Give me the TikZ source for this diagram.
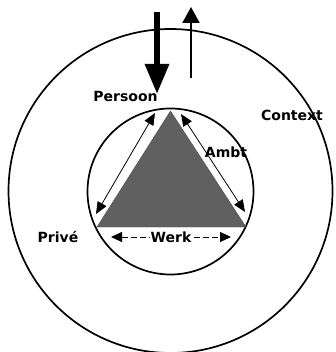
\documentclass[tikz,border=0pt]{standalone}
\usepackage{fontspec}
\setmainfont{DejaVu Sans}
\usetikzlibrary{arrows.meta}
\begin{document}
\begin{tikzpicture}[x=1pt,y=-1pt,
  ring/.style={line width=1.7pt,draw=black},
  lbl/.style={font=\bfseries\fontsize{14}{15}\selectfont,anchor=base,inner sep=0pt},
  side/.style={line width=0.8pt,{Triangle[length=12pt,width=10pt]}-{Triangle[length=12pt,width=10pt]}},
]
\useasboundingbox (0,0) rectangle (335,352);
\node[circle,ring,minimum size=324pt,inner sep=0pt] (outer) at (170.5,191) {};
\node[circle,ring,minimum size=166pt,inner sep=0pt] (inner) at (170.5,191.5) {};
\coordinate (apex) at (170.5,111);
\coordinate (bl) at (97,227);
\coordinate (br) at (246,227);
\fill[fill={rgb,255:red,96;green,96;blue,96},draw=black!70,line width=0.4pt] (apex) -- (bl) -- (br) -- cycle;
\coordinate (la) at (155,113);
\coordinate (lb) at (96,214);
\coordinate (ra) at (181,114);
\coordinate (rb) at (245,212);
\draw[side] (la) -- (lb);
\draw[side] (ra) -- (rb);
\coordinate (wa) at (111,237);
\coordinate (wb) at (231,237);
\draw[line width=0.9pt,dash pattern=on 6pt off 3pt,{Triangle[length=11pt,width=10pt]}-{Triangle[length=11pt,width=10pt]}] (wa) -- (wb);
\node[lbl,fill=white,inner xsep=1pt,inner ysep=1pt] (werk) at (171,242) {Werk};
\node[lbl] (ambt) at (226,158) {Ambt};
\node[lbl] (persoon) at (125.5,102) {Persoon};
\node[lbl] (context) at (292,121) {Context};
\node[lbl] (prive) at (58,242) {Privé};
% top arrows
\coordinate (d1) at (157,12);
\coordinate (d2) at (157,94);
\draw[line width=6pt,-{Triangle[length=30pt,width=23pt]}] (d1) -- (d2);
\coordinate (u1) at (191,78);
\coordinate (u2) at (191,7);
\draw[line width=2pt,-{Triangle[length=16pt,width=17pt]}] (u1) -- (u2);
\end{tikzpicture}
\end{document}
